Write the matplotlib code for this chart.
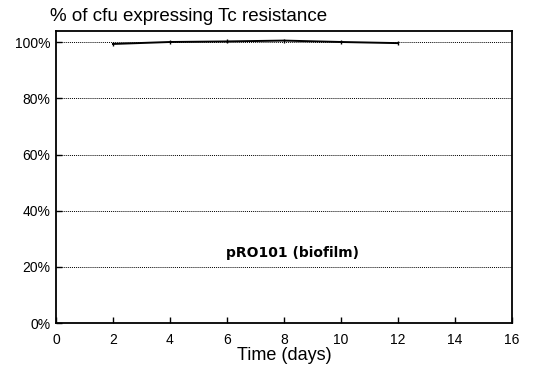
import matplotlib
matplotlib.use("Agg")
import matplotlib.pyplot as plt
from matplotlib.ticker import FuncFormatter

# Percentage of colony-forming units retaining tetracycline resistance
days = [2, 4, 6, 8, 10, 12]
pct_resistant = [99.4, 100.1, 100.3, 100.6, 100.1, 99.7]
x_ticks = [0, 2, 4, 6, 8, 10, 12, 14, 16]
y_ticks = [0, 20, 40, 60, 80, 100]
series_label = "pRO101 (biofilm)"

plt.rcParams["font.family"] = ["Liberation Sans", "DejaVu Sans"]

fig = plt.figure(figsize=(5.54, 3.74), dpi=100)
ax = fig.add_axes([0.101, 0.136, 0.823, 0.781])

ax.plot(days, pct_resistant, color="black", lw=1.4, marker="|", ms=3, mew=1.0)

ax.set_xlim(0, 16)
ax.set_ylim(0, 104)
ax.set_xticks(x_ticks)
ax.set_yticks(y_ticks)
ax.yaxis.set_major_formatter(FuncFormatter(lambda v, _: f"{int(v)}%"))
ax.tick_params(direction="in", length=4, width=1, labelsize=10, colors="black")
ax.tick_params(axis="x", pad=7)
ax.tick_params(axis="y", pad=4)

ax.yaxis.grid(True, linestyle=(0, (1, 1)), color="black", lw=0.7)
ax.set_axisbelow(True)
for sp in ax.spines.values():
    sp.set_linewidth(1.3)

ax.text(8.3, 24.8, series_label, ha="center", va="center",
        fontsize=10, fontweight="bold", family="DejaVu Sans")

fig.text(0.09, 0.957, "% of cfu expressing Tc resistance",
         ha="left", va="center", fontsize=13.5)
ax.set_xlabel("Time (days)", fontsize=13, labelpad=0)

fig.savefig("out.png", dpi=100)
